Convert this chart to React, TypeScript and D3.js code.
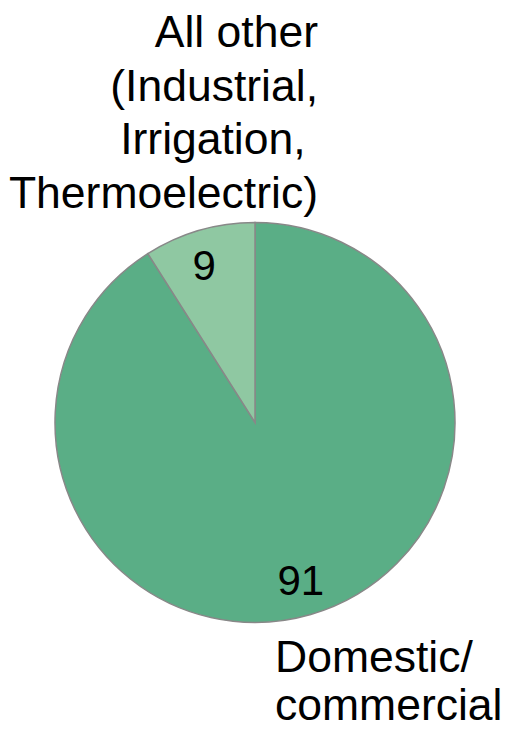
import React, {useEffect, useRef} from 'react';
import * as d3 from 'd3';

const categories = ['Domestic/commercial', 'All other (Industrial, Irrigation, Thermoelectric)'];
const values = [91, 9];
const sliceColors = ['#5aae86', '#8fc8a2'];
const otherLabelLines = ['All other', '(Industrial,', 'Irrigation, ', 'Thermoelectric)'];
const domesticLabelLines = ['Domestic/', 'commercial'];

const width = 506;
const height = 729;

/**
 * Pie chart of water use share, drawn with d3 through a ref.
 */
function App() {
    const svgRef = useRef<SVGSVGElement>(null);

    useEffect(() => {
        const svg = d3.select(svgRef.current);
        svg.selectAll('*').remove();

        const cx = 255;
        const cy = 422.5;
        const radius = 200;
        const font = '"Liberation Sans", Arial, sans-serif';

        const pie = d3.pie<number>()
            .sort(null)
            .value(d => d);

        const arcs = pie(values);

        const arc = d3.arc<d3.PieArcDatum<number>>()
            .innerRadius(0)
            .outerRadius(radius);

        const labelArc = d3.arc<d3.PieArcDatum<number>>()
            .innerRadius(radius * 0.82)
            .outerRadius(radius * 0.82);

        const g = svg.append('g')
            .attr('transform', `translate(${cx}, ${cy})`);

        g.selectAll('path')
            .data(arcs)
            .join('path')
            .attr('d', arc)
            .attr('fill', (d, i) => sliceColors[i])
            .attr('stroke', '#888888')
            .attr('stroke-width', 1.5);

        // value labels inside the slices (small slice label nudged towards the wide side)
        g.selectAll('.value-label')
            .data(arcs)
            .join('text')
            .attr('class', 'value-label')
            .attr('transform', d => {
                const [x, y] = labelArc.centroid(d);
                const nudge = d.value < 50 ? -5 : 0;
                return `translate(${x + nudge}, ${y})`;
            })
            .attr('text-anchor', 'middle')
            .attr('dy', '0.36em')
            .style('font-family', font)
            .style('font-size', '42px')
            .text(d => d.value);

        // category label above the pie, right aligned
        svg.append('text')
            .attr('text-anchor', 'end')
            .style('font-family', font)
            .style('font-size', '44.5px')
            .style('white-space', 'pre')
            .selectAll('tspan')
            .data(otherLabelLines)
            .join('tspan')
            .attr('x', 318)
            .attr('y', (d, i) => 47 + i * 53.5)
            .text(d => d);

        // category label below the pie, left aligned
        svg.append('text')
            .attr('text-anchor', 'start')
            .style('font-family', font)
            .style('font-size', '44.5px')
            .selectAll('tspan')
            .data(domesticLabelLines)
            .join('tspan')
            .attr('x', 275)
            .attr('y', (d, i) => 672 + i * 48)
            .text(d => d);
    }, []);

    return (
        <svg ref={svgRef} width={width} height={height}
             style={{position: 'absolute', left: 0, top: 0, background: '#ffffff'}}
             aria-label={categories.join(', ')}/>
    );
}

export default App;
